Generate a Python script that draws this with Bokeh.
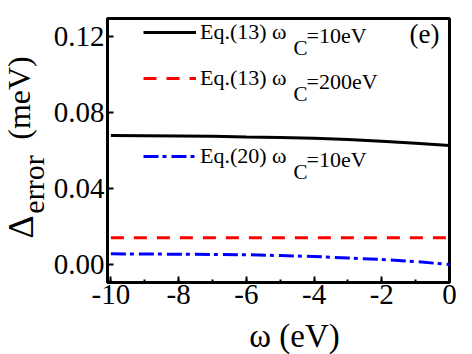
import math
from bokeh.plotting import figure
from bokeh.layouts import row, column
from bokeh.models import (Range1d, SingleIntervalTicker, NumeralTickFormatter,
                          Legend, LegendItem, Label)
from bokeh.core.properties import value
from bokeh.embed import file_html
from bokeh.resources import INLINE

# ---- data ----
omega = [-10, -9, -8, -7, -6, -5, -4, -3, -2, -1, 0]
eq13_wc10 = [0.0679, 0.0678, 0.0677, 0.0675, 0.0671, 0.0668, 0.0665, 0.0658, 0.0649, 0.0638, 0.0626]
eq13_wc200 = [0.0140, 0.0140, 0.0140, 0.0140, 0.0140, 0.0140, 0.0140, 0.0140, 0.0140, 0.0140, 0.0140]
eq20_wc10 = [0.0056, 0.0055, 0.0054, 0.0053, 0.0051, 0.0047, 0.0042, 0.0034, 0.0026, 0.0015, 0.0000]

legend_main = ["Eq.(13) ω", "Eq.(13) ω", "Eq.(20) ω"]
legend_tail = ["=10eV", "=200eV", "=10eV"]
x_title = "ω (eV)"
y_title_parts = ["Δ", "error", "(meV)"]

FONT = "Liberation Serif"
W, H = 472, 354
LW = 50          # width of the strip that carries the y title
BH = 37          # height of the strip that carries the x title
FB = 282         # page y of frame bottom
FL = 104         # page x of frame left


def strip(width, height, x0, y0):
    f = figure(width=width, height=height, output_backend="svg", toolbar_location=None,
               x_range=Range1d(x0, x0 + width), y_range=Range1d(y0 + height, y0),
               x_axis_type=None, y_axis_type=None,
               min_border_left=0, min_border_right=0, min_border_top=0,
               min_border_bottom=0)
    f.grid.visible = False
    f.outline_line_color = None
    f.border_fill_color = "white"
    f.background_fill_color = "white"
    return f


# ---- y-title strip (left), page coordinates ----
s = strip(LW, H, 0, 0)
for txt, cx, cy, fs in zip(y_title_parts,
                           [32.2 - 0.3375 * 36, 43 - 0.3375 * 30, 29 - 0.3375 * 32],
                           [226.5, 184, 97.5], [36, 30, 32]):
    s.text(x=[cx], y=[cy], text=[txt], angle=math.pi / 2,
           text_font=value(FONT), text_font_size=value(f"{fs}px"),
           text_align="center", text_baseline="middle", text_color="black")

# ---- x-title strip (bottom), page coordinates ----
b = strip(W - LW, BH, LW, H - BH)
b.text(x=[225], y=[335.5], text=[x_title],
       text_font=value(FONT), text_font_size=value("33px"),
       text_align="left", text_baseline="middle", text_color="black")

# ---- main plot ----
p = figure(width=W - LW, height=H - BH, output_backend="svg", toolbar_location=None,
           x_range=Range1d(-10.1, 0.0), y_range=Range1d(-0.0095, 0.1295),
           min_border_left=FL - LW, min_border_right=23, min_border_top=18,
           min_border_bottom=H - BH - FB)
p.grid.visible = False
p.outline_line_color = "black"
p.outline_line_width = 3
p.background_fill_color = "white"
p.border_fill_color = "white"


def label(cx, cy, text, size, align="left"):
    """cx, cy: page position of the text's middle line (inside the frame)."""
    p.add_layout(Label(x=cx - FL, y=FB - cy, x_units="screen", y_units="screen",
                       text=text, text_font=FONT, text_font_size=f"{size}px",
                       text_align=align, text_baseline="middle", text_color="black"))


r1 = p.line(omega, eq13_wc10, line_color="black", line_width=3)
r2 = p.line(omega, eq13_wc200, line_color="#ff0000", line_width=3, line_dash="13 10")
r3 = p.line(omega, eq20_wc10, line_color="#0000ff", line_width=3, line_dash="15 4 4 5")

# axes
xa = p.xaxis[0]
xa.ticker = SingleIntervalTicker(interval=2, num_minor_ticks=2)
xa.formatter = NumeralTickFormatter(format="0")
ya = p.yaxis[0]
ya.ticker = SingleIntervalTicker(interval=0.04, num_minor_ticks=0)
ya.formatter = NumeralTickFormatter(format="0.00")
for ax in (xa, ya):
    ax.axis_line_width = 3
    ax.axis_line_color = "black"
    ax.major_tick_in = 6
    ax.major_tick_out = 0
    ax.major_tick_line_width = 2
    ax.minor_tick_in = 3
    ax.minor_tick_out = 0
    ax.minor_tick_line_width = 2
    ax.major_label_text_font = FONT
    ax.major_label_text_font_style = "normal"
    ax.major_label_text_font_size = "29px"
    ax.major_label_text_color = "black"
    ax.major_label_standoff = 3
    ax.axis_label = None
xa.major_label_standoff = 2
ya.minor_tick_line_color = None

# panel tag
label(421, 43 - 0.34 * 27, "(e)", 27, align="center")

# legends (one per entry, uneven spacing as in reference)
line_y = [35, 81, 159]  # page y of the legend sample lines
for rend, main, tail, ly in zip((r1, r2, r3), legend_main, legend_tail, line_y):
    lg = Legend(items=[LegendItem(label=main, renderers=[rend])],
                location=(36, FB - (ly + 10)), padding=0, margin=0,
                spacing=0, glyph_width=53, glyph_height=20, label_height=20,
                label_standoff=4, label_text_font=FONT, label_text_font_size="22px",
                label_text_color="black",
                border_line_alpha=0, background_fill_alpha=0)
    p.add_layout(lg, "center")
    base = ly + 7.5
    label(290, base + 12 - 0.34 * 21, "C", 21)
    label(303, base - 0.34 * 22, tail, 22)

layout = row(s, column(p, b, spacing=0), spacing=0)
open("out.html", "w").write(file_html(layout, INLINE))
